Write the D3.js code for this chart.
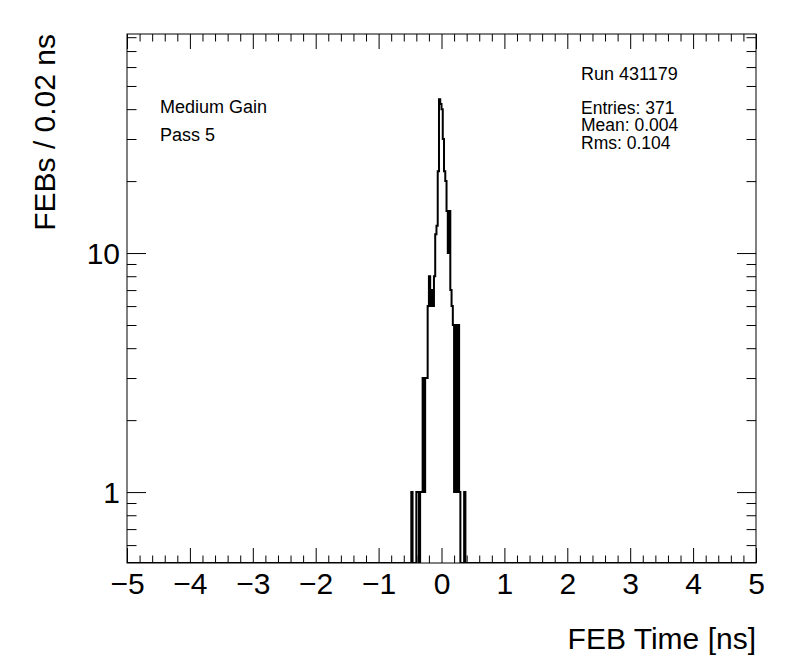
<!DOCTYPE html>
<html>
<head>
<meta charset="utf-8">
<script src="https://cdn.jsdelivr.net/npm/d3@7"></script>
<style>
  body { margin: 0; background: #fff; }
  svg { display: block; }
  text { font-family: "Liberation Sans", Arial, Helvetica, sans-serif; fill: #000; }
</style>
</head>
<body>
<div id="chart"></div>
<script>
// FEB time histogram, bins of 0.02 ns, only non-empty bins listed (lower edge -> count)
var binLow = [-0.48, -0.40, -0.38, -0.34, -0.32,
              -0.30, -0.28, -0.26, -0.24,
              -0.22, -0.20, -0.18, -0.16, -0.14, -0.12,
              -0.10, -0.08, -0.06,
              -0.04, -0.02, 0.00,
              0.02, 0.04, 0.06,
              0.08, 0.10, 0.12,
              0.14, 0.16,
              0.18, 0.20, 0.22, 0.24, 0.26,
              0.28, 0.36];
var binCount = [1, 1, 1, 1, 1,
                3, 1, 3, 3,
                6, 8, 6, 7, 6, 8,
                12, 13, 22,
                44, 42, 40,
                30, 22, 20,
                15, 10, 15,
                7, 6,
                5, 1, 5, 1, 5,
                1, 1];
var binWidth = 0.02;

var xTicks = [-5, -4, -3, -2, -1, 0, 1, 2, 3, 4, 5];
var yMajor = [1, 10];
var yMinor = [0.6, 0.7, 0.8, 0.9, 2, 3, 4, 5, 6, 7, 8, 9, 20, 30, 40, 50, 60, 70, 80];

var labelsLeft = ["Medium Gain", "Pass 5"];
var statsLines = ["Entries: 371", "Mean: 0.004", "Rms: 0.104"];
var runLabel = "Run 431179";

var W = 796, H = 672;
var fx0 = 127, fx1 = 756, fy0 = 34, fy1 = 563;

var svg = d3.select("#chart").append("svg").attr("width", W).attr("height", H);

var x = d3.scaleLinear().domain([-5, 5]).range([fx0, fx1]);
var y = d3.scaleLog().domain([0.505, 82.5]).range([fy1, fy0]);

// minor x ticks every 0.2
var xMinor = [];
for (var v = -5; v < 5.0001; v += 0.2) {
    if (Math.abs(v - Math.round(v)) > 1e-6) xMinor.push(+v.toFixed(1));
}

function tickGroup(axis, tx, ty) {
    var g = svg.append("g").attr("transform", "translate(" + tx + "," + ty + ")").call(axis);
    g.select(".domain").remove();
    g.selectAll("line").attr("stroke", "#000").attr("stroke-width", 1);
    return g;
}

// bottom & top x ticks
var gxb = tickGroup(d3.axisBottom(x).tickValues(xTicks).tickSize(-15)
    .tickFormat(d3.format("d")), 0, fy1);
gxb.selectAll("text").attr("font-size", 30).attr("dy", null).attr("y", 31);
tickGroup(d3.axisBottom(x).tickValues(xMinor).tickSize(-7.5).tickFormat(""), 0, fy1);
tickGroup(d3.axisTop(x).tickValues(xTicks).tickSize(-15).tickFormat(""), 0, fy0);
tickGroup(d3.axisTop(x).tickValues(xMinor).tickSize(-7.5).tickFormat(""), 0, fy0);

// left & right y ticks
var gyl = tickGroup(d3.axisLeft(y).tickValues(yMajor).tickSize(-19).tickPadding(7)
    .tickFormat(d3.format("d")), fx0, 0);
gyl.selectAll("text").attr("font-size", 30).attr("dy", "0.36em");
tickGroup(d3.axisLeft(y).tickValues(yMinor).tickSize(-9.5).tickFormat(""), fx0, 0);
tickGroup(d3.axisRight(y).tickValues(yMajor).tickSize(-19).tickFormat(""), fx1, 0);
tickGroup(d3.axisRight(y).tickValues(yMinor).tickSize(-9.5).tickFormat(""), fx1, 0);

// histogram outline
svg.append("clipPath").attr("id", "clip").append("rect")
    .attr("x", fx0).attr("y", fy0).attr("width", fx1 - fx0).attr("height", fy1 - fy0);

var yb = fy1;
var p = d3.path();
p.moveTo(x(-5), yb);
var cur = yb;
binLow.forEach(function(b, i) {
    var x0 = x(b), x1 = x(b + binWidth), yy = y(binCount[i]);
    p.lineTo(x0, cur);
    p.lineTo(x0, yy);
    p.lineTo(x1, yy);
    cur = yy;
    var next = binLow[i + 1];
    if (next === undefined || Math.abs(next - (b + binWidth)) > 1e-9) {
        p.lineTo(x1, yb);
        cur = yb;
    }
});
p.lineTo(x(5), yb);

svg.append("path").attr("d", p.toString())
    .attr("clip-path", "url(#clip)")
    .attr("fill", "none").attr("stroke", "#000").attr("stroke-width", 2)
    .attr("stroke-linejoin", "miter");

// frame
svg.append("rect").attr("x", fx0).attr("y", fy0).attr("width", fx1 - fx0).attr("height", fy1 - fy0)
    .attr("fill", "none").attr("stroke", "#000").attr("stroke-width", 1);

// axis titles
svg.append("text").attr("x", fx1).attr("y", 649).attr("text-anchor", "end")
    .attr("font-size", 30).text("FEB Time [ns]");
svg.append("text").attr("transform", "translate(55," + fy0 + ") rotate(-90)")
    .attr("text-anchor", "end").attr("font-size", 30).text("FEBs / 0.02 ns");

// annotations
svg.selectAll(".lab").data(labelsLeft).enter().append("text")
    .attr("x", 160).attr("y", function(d, i) { return 113 + i * 28; })
    .attr("font-size", 18).text(function(d) { return d; });

svg.append("text").attr("x", 581).attr("y", 80).attr("font-size", 18).text(runLabel);
svg.selectAll(".st").data(statsLines).enter().append("text")
    .attr("x", 581).attr("y", function(d, i) { return 113.5 + i * 17.5; })
    .attr("font-size", 17.5).text(function(d) { return d; });
</script>
</body>
</html>
